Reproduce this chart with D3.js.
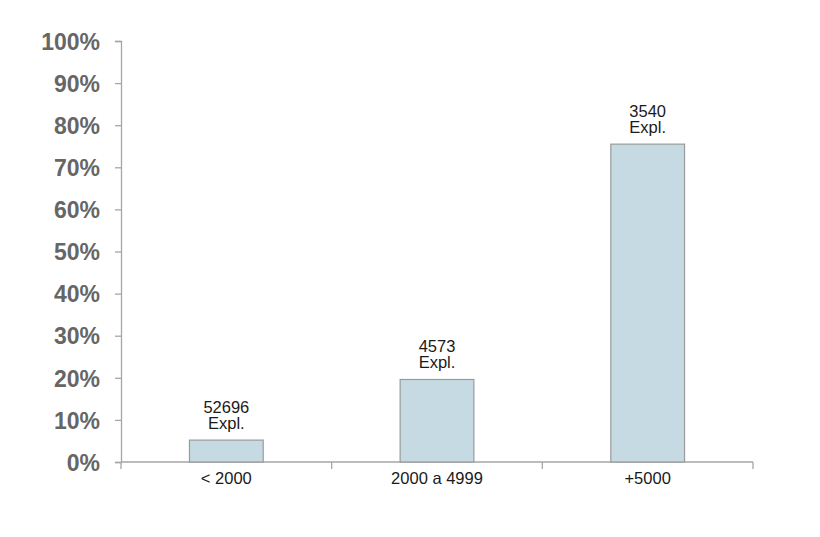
<!DOCTYPE html>
<html>
<head>
<meta charset="utf-8">
<script src="https://cdn.jsdelivr.net/npm/d3@7"></script>
<style>
  html, body { margin: 0; padding: 0; background: #fff; }
  svg { display: block; font-family: "Liberation Sans", Arial, sans-serif; }
</style>
</head>
<body>
<svg id="chart" width="820" height="537"></svg>
<script>
// categories / values (share %) / label counts
var CATEGORIES = ['< 2000', '2000 a 4999', '+5000'];
var SHARES = [5.2, 19.6, 75.5];
var COUNTS = ['52696', '4573', '3540'];
var Y_TICKS = [0, 10, 20, 30, 40, 50, 60, 70, 80, 90, 100];

var svg = d3.select('#chart');
var M = { left: 121, right: 753, top: 41, bottom: 462 };

var x = d3.scaleBand().domain(CATEGORIES).range([M.left, M.right]).paddingInner(0.65).paddingOuter(0.325);
var xt = d3.scaleBand().domain(CATEGORIES).range([M.left, M.right]);
var y = d3.scaleLinear().domain([0, 100]).range([M.bottom, M.top]);

// y axis
var gy = svg.append('g').attr('transform', 'translate(' + M.left + ',0)')
  .call(d3.axisLeft(y).tickValues(Y_TICKS).tickSize(6).tickPadding(15).tickFormat(function (d) { return d + '%'; }));
gy.select('.domain').attr('stroke', '#a6a6a6').attr('stroke-width', 1.3);
gy.selectAll('.tick line').attr('stroke', '#a6a6a6').attr('stroke-width', 1.3);
gy.selectAll('.tick text').attr('fill', '#666').attr('font-size', 23).attr('font-weight', 700)
  .attr('font-family', '"Liberation Sans", Arial, sans-serif').attr('dy', '0.36em');

// x axis: line with boundary ticks
var gx = svg.append('g');
gx.append('line').attr('x1', M.left).attr('x2', M.right).attr('y1', y(0)).attr('y2', y(0))
  .attr('stroke', '#a6a6a6').attr('stroke-width', 1.3);
var bounds = CATEGORIES.map(function (c) { return xt(c); }).concat([M.right]);
gx.selectAll('line.tk').data(bounds).enter().append('line').attr('class', 'tk')
  .attr('x1', function (d) { return d; }).attr('x2', function (d) { return d; })
  .attr('y1', y(0)).attr('y2', y(0) + 7).attr('stroke', '#a6a6a6').attr('stroke-width', 1.3);
gx.selectAll('text').data(CATEGORIES).enter().append('text')
  .attr('x', function (d) { return xt(d) + xt.bandwidth() / 2; }).attr('y', y(0) + 22)
  .attr('text-anchor', 'middle').attr('font-size', 16.5).attr('fill', '#1a1a1a').text(function (d) { return d; });

// bars
var data = CATEGORIES.map(function (c, i) { return { c: c, v: SHARES[i], n: COUNTS[i] }; });
svg.append('g').selectAll('rect').data(data).enter().append('rect')
  .attr('x', function (d) { return x(d.c); }).attr('width', x.bandwidth())
  .attr('y', function (d) { return y(d.v); }).attr('height', function (d) { return y(0) - y(d.v); })
  .attr('fill', '#c5dae2').attr('stroke', '#9a9a9a').attr('stroke-width', 1.2);

// labels
var lab = svg.append('g').selectAll('text').data(data).enter().append('text')
  .attr('text-anchor', 'middle').attr('font-size', 16.5).attr('fill', '#1a1a1a');
lab.append('tspan').attr('x', function (d) { return x(d.c) + x.bandwidth() / 2; })
  .attr('y', function (d) { return y(d.v) - 27.5; }).text(function (d) { return d.n; });
lab.append('tspan').attr('x', function (d) { return x(d.c) + x.bandwidth() / 2; })
  .attr('y', function (d) { return y(d.v) - 11; }).text('Expl.');
</script>
</body>
</html>
